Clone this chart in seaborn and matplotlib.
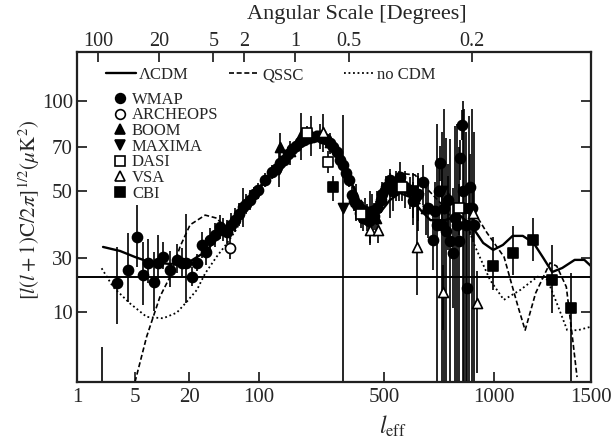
import numpy as np
import matplotlib
matplotlib.use("Agg")
import matplotlib.pyplot as plt
import seaborn as sns
from matplotlib.lines import Line2D

# model curves (l_eff, amplitude in uK)
lcdm_ell = [2.06, 3.3, 5, 7.2, 12.3, 20, 29, 41, 58, 81, 108, 131, 161, 191, 220, 249, 274, 315, 362,
            417, 478, 519, 553, 589, 630, 670, 735, 806, 876, 934, 995, 1038, 1081, 1128, 1180, 1229,
            1275, 1330, 1401, 1459, 1500]
lcdm_val = [33.3, 32.1, 30.3, 28.5, 27.8, 28.5, 31.8, 36.9, 41.9, 47.3, 55, 63.2, 70.7, 75.9, 76.5, 73.3, 67.3, 57.3, 47.3,
            43.4, 43.7, 47.3, 49.4, 48.2, 44.3, 41.3, 41.3, 42.8, 39, 34.5, 32.4, 33.9, 36.6, 36.6, 34.5, 30,
            24.8, 26.3, 29.3, 29.3, 27]

qssc_ell = [5, 6.75, 9.5, 12.3, 15.9, 20.5, 29, 37.8, 48, 69, 100, 131, 172, 210, 249, 302, 362, 428, 503,
            536, 570, 608, 649, 720, 800, 876, 957, 1043, 1075, 1106, 1139, 1190, 1264, 1300, 1353, 1385, 1415]
qssc_val = [0, 6.5, 15.7, 23.1, 33.4, 39.9, 42.8, 41.9, 38.4, 44.3, 50.5, 62.7, 71.3, 75.9, 72.6, 61.8, 47.9, 43.4, 48.8,
            54.1, 57.8, 57.3, 51.8, 46, 46, 44.3, 37.5, 30.3, 20.8, 11.9, 7.4, 17, 28.2, 27, 19.3, 7, 0.7]

nocdm_ell = [1.98, 2.72, 4.3, 6.75, 10.3, 14.6, 18.2, 24, 29, 37.8, 48, 58.9, 81, 108, 140, 180, 215, 250,
             300, 362, 420, 500, 560, 650, 750, 830, 888, 975, 1042, 1117, 1200, 1250, 1300, 1358, 1420, 1500]
nocdm_val = [26.2, 19.3, 13.3, 9.3, 9.1, 9.9, 13.2, 18.2, 24.3, 30.4, 34.4, 38.4, 46, 54, 65, 73, 76, 73,
             60, 47, 43, 46, 50, 45, 43, 42, 33.4, 21.9, 14.5, 18.2, 23.1, 22, 13.3, 7.4, 7.4, 7.9]

ref_level = 23

# band powers
wmap_ell = [2, 3.03, 4.12, 5.26, 6.14, 6.98, 8.14, 9.0, 10.3, 12.3, 14.7, 16.7, 18.5, 21.4, 24, 27, 29.6,
            32.4, 36.4, 40.8, 44, 47.9, 52, 57.6, 63, 69.2, 75, 81, 90, 98, 108, 118, 125, 131, 138, 145, 153,
            161, 170, 178, 190, 200, 212, 225, 237, 249, 260, 273, 285, 295, 305, 317, 331, 340, 353, 367,
            380, 390, 400, 410, 430, 440, 455, 478, 490, 505, 519, 530, 540, 553, 570, 589, 600, 620, 639,
            660, 680, 690, 700, 705, 712, 720, 730, 740, 748, 760, 772, 780, 790, 800, 806, 817, 820, 830,
            840, 843, 855, 862, 870, 880]
wmap_val = [-4, 20.8, 25.6, 36.3, 23.7, 28.2, 21.1, 28.2, 30.3, 25.6, 29.3, 28.2, 28.2, 23.0, 28.2, 33.9, 31.8,
            35.4, 36.9, 39.3, 38.5, 37.8, 40, 41.3, 43, 45.2, 46, 47.3, 49, 50.5, 55, 58.6, 60, 62.7, 64, 66.8, 69,
            70.7, 73, 74.6, 76, 76.5, 77, 75.9, 75, 72.6, 70, 67.7, 64, 61.8, 58, 55, 48.8, 47, 45.8, 43.4,
            42, 44, 42, 41, 44, 42.5, 45, 47.3, 49, 52, 55, 50, 53, 56.4, 52, 50.5, 47, 49, 53.9,
            45, 35.4, 44, 40, 50, 62.7, 40, 45, 38, 47.3, 35, 31.5, 42, 40, 35, 64.8, 84.3, 50, 45,
            40, 18.9, 45, 52, 45, 40]
wmap_err = [9, 12.5, 11.8, 9.5, 11, 7.5, 10.7, 8.6, 4.5, 6.5, 4.8, 4.9, 15, 3.5, 3, 4, 4.3,
            3.5, 3.5, 3.5, 3.5, 3.5, 3.5, 3.5, 3.5, 6, 3, 3, 3, 3, 3, 3, 3, 3, 3, 3, 3,
            3, 3, 3, 3, 3, 3, 3, 3, 3, 3, 3, 3, 3, 3, 3, 3, 3, 3, 3,
            4, 4, 4, 4, 5, 4, 5, 4, 5, 5, 5, 6, 6, 7, 7, 6, 7, 8, 8,
            9, 10, 10, 45, 12, 8, 40, 50, 38, 15, 40, 20, 42, 45, 35, 10, 10, 50, 50,
            40, 20, 45, 15, 50, 40]

archeops_ell = [51]
archeops_val = [33]
archeops_err = [3.5]

boom_ell = [131, 150, 172, 195, 250, 350, 450, 550, 650, 750]
boom_val = [70, 68, 78, 78, 73, 47, 42, 53, 45, 48]
boom_err = [9, 6, 14, 12, 6, 6, 5, 6, 8, 9]

maxima_ell = [130, 220, 295, 420, 520, 620, 720]
maxima_val = [60, 77, 45, 42, 50, 48, 50]
maxima_err = [8, 8, 46, 8, 8, 10, 12]

dasi_ell = [185, 243, 370, 560, 800]
dasi_val = [79, 63, 43, 52, 45]
dasi_err = [5, 5, 4, 5, 8]

vsa_ell = [228, 417, 464, 614, 725, 876, 898]
vsa_val = [79.8, 38.4, 38.4, 33.4, 17.4, 43.4, 13.3]
vsa_err = [12, 4, 4, 17, 10, 8, 12]

cbi_ell = [259, 600, 991, 1081, 1176, 1273, 1378]
cbi_val = [52, 50, 27.2, 31.6, 35.4, 21.9, 11.4]
cbi_err = [5, 8, 9, 8, 6.5, 12, 13]

# axis scale knots: tick value -> pixel distance from the frame edge
x_knot_ell = [1, 5, 20, 100, 500, 1000, 1500]
x_knot_pos = [0, 58, 112, 182, 307, 417, 514]
y_knot_val = [-30, 0, 10, 30, 50, 70, 100, 130]
y_knot_pos = [-210, 0, 70, 124, 191, 235, 281, 330]

top_tick_ell = [1.8, 9.3, 35, 71, 159, 319, 871]
top_tick_lab = ["100", "20", "5", "2", "1", "0.5", "0.2"]


def x_fwd(v):
    v = np.clip(np.asarray(v, dtype=float), 1e-3, None)
    return np.interp(np.log10(v), np.log10(x_knot_ell), x_knot_pos)


def x_inv(p):
    return 10 ** np.interp(p, x_knot_pos, np.log10(x_knot_ell))


def y_fwd(v):
    return np.interp(v, y_knot_val, y_knot_pos)


def y_inv(p):
    return np.interp(p, y_knot_pos, y_knot_val)


sns.set_theme(style="ticks")
plt.rcParams["font.family"] = ["Liberation Serif", "DejaVu Serif"]
plt.rcParams["mathtext.fontset"] = "stix"

fig = plt.figure(figsize=(6.13, 4.43), dpi=100)
ax = fig.add_axes([77 / 613, 1 - 382 / 443, 514 / 613, 330 / 443])
ax.set_xscale("function", functions=(x_fwd, x_inv))
ax.set_yscale("function", functions=(y_fwd, y_inv))

# models
sns.lineplot(x=lcdm_ell, y=lcdm_val, sort=False, estimator=None, color="black", lw=1.7, ax=ax)
sns.lineplot(x=qssc_ell, y=qssc_val, sort=False, estimator=None, color="black", lw=1.2,
             ax=ax, linestyle=(0, (3, 1.6)))
sns.lineplot(x=nocdm_ell, y=nocdm_val, sort=False, estimator=None, color="black", lw=1.3,
             ax=ax, linestyle=(0, (1, 1.5)))
ax.axhline(ref_level, color="black", lw=1.4)

datasets = [
    (wmap_ell, wmap_val, wmap_err, "o", "black"),
    (archeops_ell, archeops_val, archeops_err, "o", "white"),
    (boom_ell, boom_val, boom_err, "^", "black"),
    (maxima_ell, maxima_val, maxima_err, "v", "black"),
    (dasi_ell, dasi_val, dasi_err, "s", "white"),
    (vsa_ell, vsa_val, vsa_err, "^", "white"),
    (cbi_ell, cbi_val, cbi_err, "s", "black"),
]
for ell, val, err, mk, fc in datasets:
    ax.errorbar(ell, val, yerr=err, fmt="none", ecolor="black", elinewidth=1.2, capsize=0, zorder=3)
    sns.scatterplot(x=ell, y=val, marker=mk, s=52, color=fc, edgecolor="black",
                    linewidth=1.2, ax=ax, zorder=4, clip_on=True)

ax.set_xlim(1, 1500)
ax.set_ylim(0, 130)
ax.set_xticks([1, 5, 20, 100, 500, 1000, 1500])
ax.set_xticklabels(["1", "5", "20", "100", "500", "1000", "1500"])
ax.set_yticks([10, 30, 50, 70, 100])
ax.set_yticklabels(["10", "30", "50", "70", "100"])
ax.minorticks_off()
ax.tick_params(direction="in", length=7, width=1.3, labelsize=15, right=True, pad=3)
ax.tick_params(axis="x", pad=4)
for s in ax.spines.values():
    s.set_linewidth(1.6)
    s.set_color("black")

top = ax.twiny()
top.set_xscale("function", functions=(x_fwd, x_inv))
top.set_xlim(ax.get_xlim())
top.set_xticks(top_tick_ell)
top.set_xticklabels(top_tick_lab)
top.minorticks_off()
top.tick_params(direction="in", length=7, width=1.3, labelsize=14.5, pad=1)

# legends
model_handles = [
    Line2D([], [], color="black", lw=1.7, label="ΛCDM"),
    Line2D([], [], color="black", lw=1.2, ls=(0, (3, 1.6)), label="QSSC"),
    Line2D([], [], color="black", lw=1.3, ls=(0, (1, 1.5)), label="no CDM"),
]
leg1 = ax.legend(handles=model_handles, loc="center left", bbox_to_anchor=(0.04, 0.93), ncol=3,
                 frameon=False, fontsize=12, handlelength=1.8, handletextpad=0.2,
                 columnspacing=2.4, borderpad=0)
ax.add_artist(leg1)

names = ["WMAP", "ARCHEOPS", "BOOM", "MAXIMA", "DASI", "VSA", "CBI"]
data_handles = [
    Line2D([], [], ls="none", marker=mk, ms=7, mfc=fc, mec="black", mew=1.2, label=n)
    for n, (_, _, _, mk, fc) in zip(names, datasets)
]
ax.legend(handles=data_handles, loc="upper left", bbox_to_anchor=(0.055, 0.905), frameon=False,
          fontsize=12, handlelength=0.8, handletextpad=0.3, labelspacing=-0.02, borderpad=0)

fig.text(357 / 613, 1 - 15 / 443, "Angular Scale [Degrees]", ha="center", va="center", fontsize=16)
fig.text(29 / 613, 1 - 210 / 443, r"$[l(l+1)\mathrm{C}/2\pi]^{1/2}(\mu\mathrm{K}^2)$",
         rotation=90, ha="center", va="center", fontsize=15)
fig.text(393 / 613, 1 - 426 / 443, r"$l_{\mathrm{eff}}$", ha="center", va="center", fontsize=17)

fig.savefig("out.png", dpi=100)
